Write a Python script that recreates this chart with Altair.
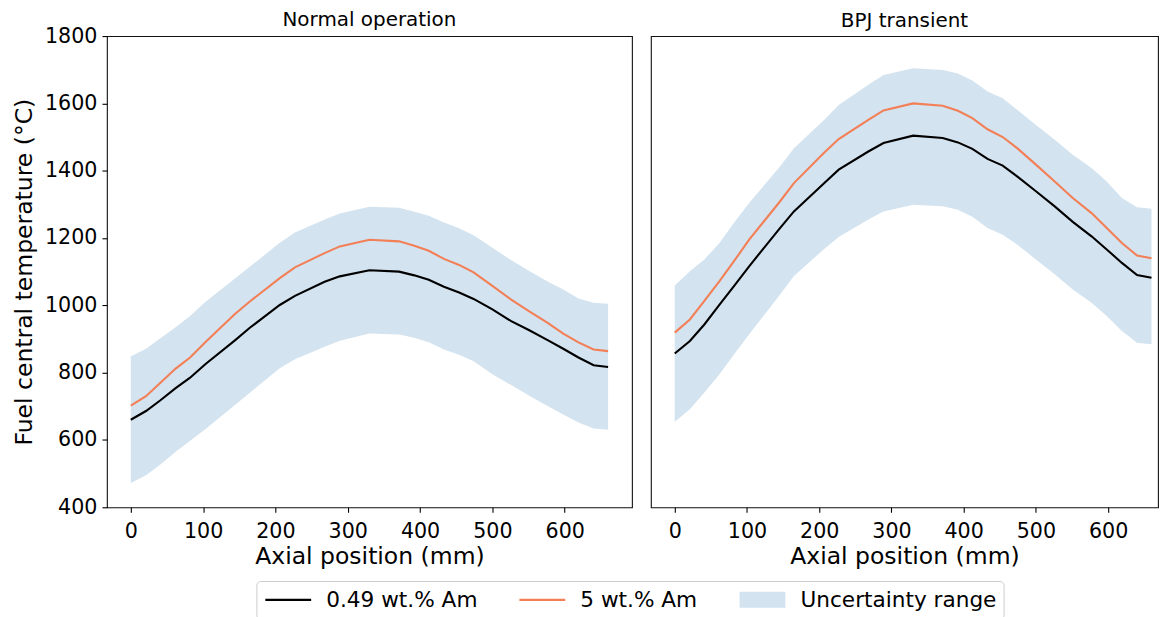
import altair as alt
import pandas as pd

FONT = "DejaVu Sans"

# Axial positions (mm)
X_MM = [0, 21, 41, 62, 82, 103, 144, 165, 206, 227, 268, 289, 330, 371, 392,
        412, 433, 454, 474, 500, 526, 551, 577, 598, 619, 640, 660]

# Normal operation
NORMAL_LOW_AM = [660, 686, 718, 754, 785, 825, 896, 934, 1001, 1028, 1070, 1086, 1104, 1100, 1089,
                 1076, 1055, 1038, 1019, 988, 953, 926, 896, 871, 845, 822, 817]
NORMAL_HIGH_AM = [702, 730, 770, 812, 845, 890, 974, 1012, 1081, 1113, 1155, 1175, 1195, 1190, 1177,
                  1162, 1138, 1120, 1098, 1058, 1017, 982, 947, 916, 890, 869, 864]
NORMAL_UNC_LO = [472, 495, 527, 565, 598, 632, 704, 741, 813, 840, 877, 895, 916, 913, 904,
                 890, 869, 853, 834, 795, 763, 731, 700, 676, 652, 634, 630]
NORMAL_UNC_HI = [848, 871, 902, 935, 968, 1010, 1080, 1115, 1186, 1216, 1255, 1273, 1293, 1290, 1278,
                 1266, 1246, 1229, 1208, 1171, 1134, 1102, 1070, 1047, 1020, 1008, 1005]

# BPJ transient
BPJ_LOW_AM = [857, 894, 943, 1002, 1057, 1116, 1225, 1279, 1361, 1403, 1457, 1482, 1504, 1497, 1484,
              1465, 1435, 1415, 1383, 1339, 1294, 1248, 1205, 1166, 1126, 1090, 1082]
BPJ_HIGH_AM = [919, 958, 1013, 1072, 1131, 1195, 1304, 1363, 1452, 1494, 1551, 1579, 1600, 1593, 1578,
               1556, 1523, 1500, 1467, 1418, 1368, 1319, 1274, 1230, 1185, 1148, 1140]
BPJ_UNC_LO = [654, 691, 741, 795, 854, 914, 1027, 1087, 1166, 1203, 1255, 1279, 1299, 1294, 1284,
              1263, 1230, 1210, 1181, 1136, 1092, 1047, 1008, 968, 924, 889, 884]
BPJ_UNC_HI = [1059, 1101, 1136, 1185, 1245, 1304, 1408, 1467, 1549, 1595, 1655, 1684, 1704, 1699, 1689,
              1668, 1635, 1615, 1581, 1536, 1492, 1447, 1408, 1368, 1319, 1291, 1287]

PANEL_TITLES = ["Normal operation", "BPJ transient"]
SERIES = ["0.49 wt.% Am", "5 wt.% Am", "Uncertainty range"]
COLORS = ["#000000", "#f37f57", "#d3e3ef"]
X_TICKS = [0, 100, 200, 300, 400, 500, 600]
Y_TICKS = [400, 600, 800, 1000, 1200, 1400, 1600, 1800]

PANEL_H = 473
LEFT_W, LEFT_DOMAIN = 527, [-33, 693]
RIGHT_W, RIGHT_DOMAIN = 509, [-33, 669]

y_scale = alt.Scale(domain=[400, 1800], nice=False, zero=False)

# legend handles: a thin line for the curves, a filled patch (stacked strokes) for the band
LINE_HANDLE = "M-2.3,0H2.3"
PATCH_HANDLE = "".join(f"M-2.3,{v / 10:.1f}H2.3" for v in range(-7, 8))

legend = alt.Legend(
    orient="none", legendX=150, legendY=547, direction="horizontal", columns=3,
    title=None, labelFont=FONT, labelFontSize=21.7, labelColor="black", labelLimit=400,
    symbolType={"expr": f"datum.value === 'Uncertainty range' ? '{PATCH_HANDLE}' : '{LINE_HANDLE}'"},
    symbolSize=400, symbolStrokeWidth=2.1,
    symbolOffset=13.5, labelOffset=26.6, columnPadding=37, padding=7,
    strokeColor="#cccccc", fillColor="white", cornerRadius=4,
)


def x_axis():
    return alt.Axis(values=X_TICKS, title="Axial position (mm)", labelFont=FONT, labelFontSize=20.7,
                    labelColor="black", titleFont=FONT, titleFontSize=23.6, titleFontWeight="normal",
                    titleColor="black", tickColor="black", tickSize=5, tickWidth=1.1, domain=False,
                    grid=False, labelPadding=9, titlePadding=3.5)


def y_axis():
    return alt.Axis(values=Y_TICKS, format="d", title="Fuel central temperature (°C)", labelFont=FONT,
                    labelFontSize=20.7, labelColor="black", titleFont=FONT, titleFontSize=23.6,
                    titleFontWeight="normal", titleColor="black", tickColor="black", tickSize=5,
                    tickWidth=1.1, domain=False, grid=False, labelPadding=5, titlePadding=8)


def panel(title, low, high, lo, hi, show_y, width, domain, title_offset):
    n = len(X_MM)
    lines_df = pd.DataFrame({
        "x": X_MM + X_MM,
        "T": low + high,
        "series": [SERIES[0]] * n + [SERIES[1]] * n,
    })
    band_df = pd.DataFrame({"x": X_MM, "lo": lo, "hi": hi})

    x_scale = alt.Scale(domain=domain, nice=False, zero=False)
    y_kwargs = {"axis": y_axis()} if show_y else {"axis": None}

    band = alt.Chart(band_df).mark_area(color=COLORS[2], opacity=1).encode(
        x=alt.X("x:Q", scale=x_scale, axis=x_axis()),
        y=alt.Y("lo:Q", scale=y_scale, **y_kwargs),
        y2="hi:Q",
    )
    lines = alt.Chart(lines_df).mark_line(strokeWidth=2.1).encode(
        x=alt.X("x:Q", scale=x_scale, axis=x_axis()),
        y=alt.Y("T:Q", scale=y_scale, **y_kwargs),
        color=alt.Color("series:N", scale=alt.Scale(domain=SERIES, range=COLORS), legend=legend),
    )
    return alt.layer(band, lines).properties(
        width=width, height=PANEL_H,
        title=alt.TitleParams(title, font=FONT, fontSize=20, fontWeight="normal", color="black",
                              offset=title_offset, anchor="middle", frame="group"),
    )


left = panel(PANEL_TITLES[0], NORMAL_LOW_AM, NORMAL_HIGH_AM, NORMAL_UNC_LO, NORMAL_UNC_HI, True,
             LEFT_W, LEFT_DOMAIN, -4.9)
right = panel(PANEL_TITLES[1], BPJ_LOW_AM, BPJ_HIGH_AM, BPJ_UNC_LO, BPJ_UNC_HI, False,
              RIGHT_W, RIGHT_DOMAIN, 5)

chart = (
    alt.hconcat(left, right, spacing=17)
    .resolve_scale(color="shared")
    .resolve_legend(color="shared")
    .properties(padding={"left": 3.3, "top": 0, "right": 0, "bottom": 0}, background="white")
    .configure_view(stroke="#111111", strokeWidth=1.1)
)

chart.save("out.html", embed_options={"renderer": "svg", "actions": False})
